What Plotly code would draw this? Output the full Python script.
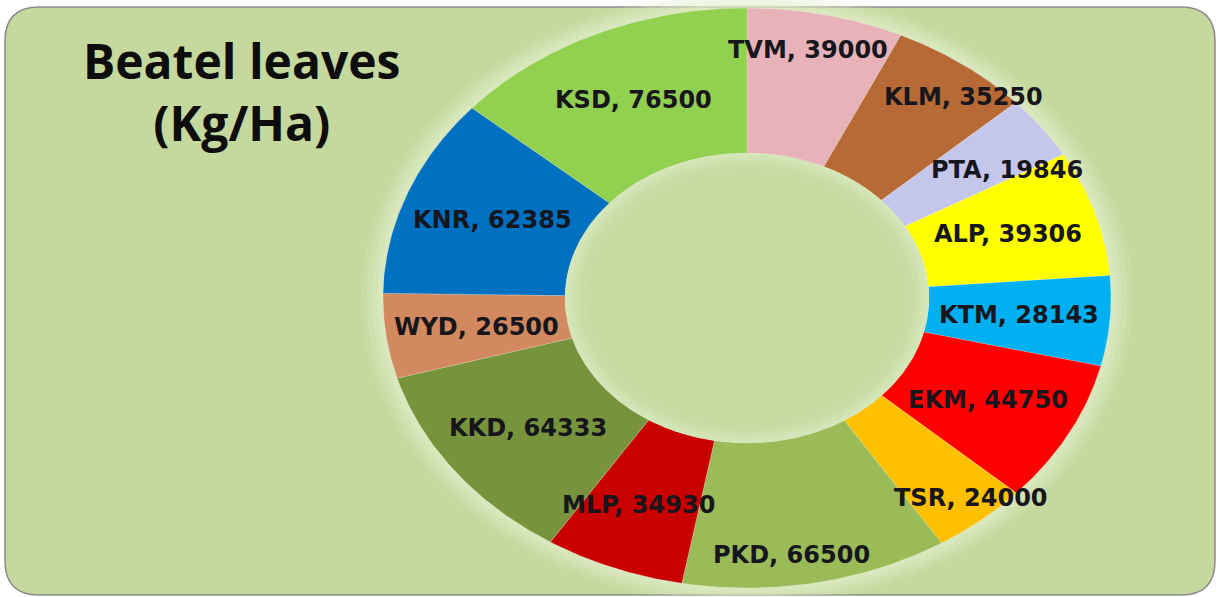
import numpy as np
import plotly.graph_objects as go

# Betel leaf productivity by district (Kg/Ha), clockwise from 12 o'clock
districts = ["TVM", "KLM", "PTA", "ALP", "KTM", "EKM", "TSR",
             "PKD", "MLP", "KKD", "WYD", "KNR", "KSD"]
yield_kg_ha = [39000, 35250, 19846, 39306, 28143, 44750, 24000,
               66500, 34930, 64333, 26500, 62385, 76500]

slice_colors = ["#E8B3B8", "#B76A36", "#C4C6EC", "#FFFF00", "#00B0F0",
                "#FF0000", "#FFC000", "#9BBB59", "#C80000", "#77933C",
                "#D2895F", "#0070C0", "#92D050"]

# nudges (px) applied to a few labels so they sit clear of neighbours
label_nudge = {"TVM": (2, 36), "KLM": (55, 26), "PTA": (39, 0),
               "TSR": (48, -33), "PKD": (-8, -44), "MLP": (-8, -5)}

W, H = 1221, 597
CX, CY = 747, 298          # ring centre in pixels
RX, RY = 364, 290          # outer radii in pixels (ring is drawn stretched)
HOLE = 0.5
LABEL_R = 0.75

fig = go.Figure()


def ellipse(r, n=240):
    t = np.linspace(0, 2 * np.pi, n)
    return r * np.sin(t), r * np.cos(t)


def blob(r, color):
    ex, ey = ellipse(r)
    fig.add_trace(go.Scatter(x=ex, y=ey, fill="toself", fillcolor=color,
                             line=dict(width=0), mode="lines", hoverinfo="skip",
                             showlegend=False))


# soft light glow around the ring
for r, a in [(1.06, 0.18), (1.045, 0.22), (1.03, 0.28), (1.015, 0.35)]:
    blob(r, f"rgba(226,239,204,{a})")

total = float(sum(yield_kg_ha))
start = 0.0
for name, val, col in zip(districts, yield_kg_ha, slice_colors):
    a0 = start / total * 2 * np.pi
    a1 = (start + val) / total * 2 * np.pi
    t = np.linspace(a0, a1, 80)
    xs = np.concatenate([np.sin(t), HOLE * np.sin(t[::-1]), [np.sin(a0)]])
    ys = np.concatenate([np.cos(t), HOLE * np.cos(t[::-1]), [np.cos(a0)]])
    fig.add_trace(go.Scatter(x=xs, y=ys, fill="toself", fillcolor=col,
                             line=dict(width=0.8, color="rgba(255,255,255,0.25)"),
                             mode="lines", name=name, showlegend=False,
                             hoverinfo="text", text=f"{name}, {val}"))
    mid = (a0 + a1) / 2
    dx, dy = label_nudge.get(name, (0, 0))
    fig.add_annotation(x=LABEL_R * np.sin(mid), y=LABEL_R * np.cos(mid),
                       text=f"{name}, {val}", showarrow=False,
                       xanchor="center", yanchor="middle",
                       xshift=dx, yshift=dy,
                       font=dict(family="DejaVu Sans", size=24,
                                 color="#16161c", weight="bold"))
    start += val

# centre of the ring, fading from a light rim to the panel colour
for r, c in [(HOLE, "#D4E6B8"), (HOLE - 0.012, "#D0E3B2"), (HOLE - 0.025, "#CCDFAB"),
             (HOLE - 0.04, "#C9DCA5"), (HOLE - 0.06, "#C7DAA1")]:
    blob(r, c)

# rounded chart-area panel
x0, y0, x1, y1, rad = 5, 7, 1215, 595, 34


def px(x, y):
    return f"{x / W:.5f},{1 - y / H:.5f}"


panel = (f"M {px(x0 + rad, y0)} L {px(x1 - rad, y0)} Q {px(x1, y0)} {px(x1, y0 + rad)} "
         f"L {px(x1, y1 - rad)} Q {px(x1, y1)} {px(x1 - rad, y1)} "
         f"L {px(x0 + rad, y1)} Q {px(x0, y1)} {px(x0, y1 - rad)} "
         f"L {px(x0, y0 + rad)} Q {px(x0, y0)} {px(x0 + rad, y0)} Z")
fig.add_shape(type="path", path=panel, xref="paper", yref="paper",
              fillcolor="#C5D89D", line=dict(color="#8C8C8C", width=1.5),
              layer="below")

# two-line title
fig.add_annotation(x=241 / W, y=1 - 92 / H, xref="paper", yref="paper",
                   text="Beatel leaves<br>(Kg/Ha)", showarrow=False,
                   xanchor="center", yanchor="middle", align="center",
                   font=dict(family="Open Sans", size=48, color="#0d0d0d",
                             weight="bold"))

fig.update_layout(
    width=W, height=H,
    margin=dict(l=0, r=0, t=0, b=0),
    paper_bgcolor="white", plot_bgcolor="rgba(0,0,0,0)",
    xaxis=dict(range=[-CX / RX, (W - CX) / RX], visible=False, fixedrange=True),
    yaxis=dict(range=[-(H - CY) / RY, CY / RY], visible=False, fixedrange=True),
)

fig.write_html("out.html")
